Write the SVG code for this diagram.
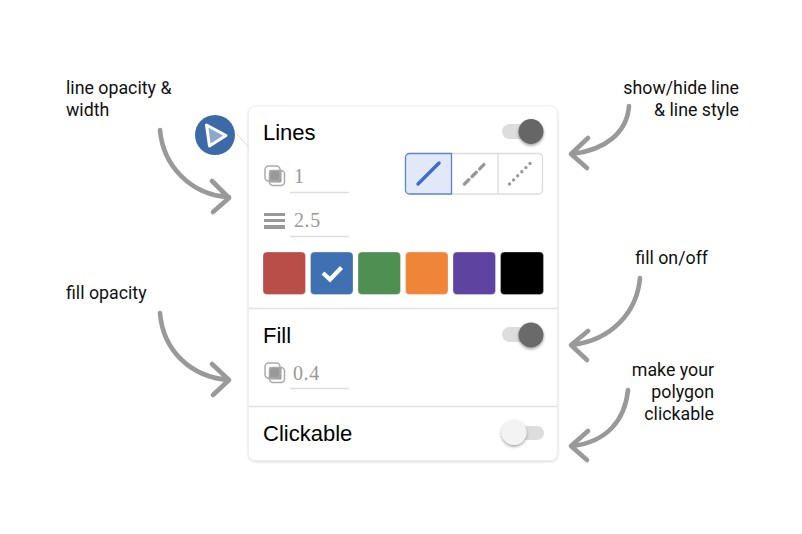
<svg xmlns="http://www.w3.org/2000/svg" width="802" height="534" viewBox="0 0 802 534">
<style>
.note{font:17.8px Roboto,sans-serif;fill:#111}
.title{font:22px "Liberation Sans",Arial,sans-serif;fill:#000}
.val{font:20px "Liberation Serif","DejaVu Serif",serif;fill:#999;letter-spacing:.6px}
.arrow{fill:none;stroke:#999;stroke-width:4.600;stroke-linecap:round;stroke-linejoin:round}
.rule{stroke:#ddd;stroke-width:1.500;fill:none}
.track{fill:#ddd}
.swatch{stroke:#fff;stroke-opacity:.3}
</style>
<defs>
<filter id="sh" x="-50%" y="-50%" width="200%" height="200%"><feDropShadow dx="0" dy="1.500" stdDeviation="1.500" flood-color="#000" flood-opacity=".4"/></filter>
<filter id="panel-sh" x="-5%" y="-5%" width="110%" height="110%"><feDropShadow dx="0" dy="1" stdDeviation="1" flood-color="#000" flood-opacity=".16"/></filter>
<g id="opacity"><rect x="5" y="5" width="12.500" height="12.500" rx="1.500" fill="#999"/><rect x="1" y="1" width="15" height="15" rx="3.500" fill="none" stroke="#aaa" stroke-width="1.500"/><rect x="5.500" y="5.500" width="15" height="15" rx="3.500" fill="none" stroke="#aaa" stroke-width="1.500"/></g>
</defs>
<rect width="802" height="534" fill="#fff"/>
<g id="panel"><rect x="248.500" y="106" width="309" height="354.500" rx="7" fill="#fff" stroke="#eee" stroke-width="1" filter="url(#panel-sh)"/><path d="M236 133 248.500 147" stroke="#ddd" fill="none"/><line x1="249" y1="308.500" x2="557" y2="308.500" stroke="#e2e2e2" stroke-width="1.300"/><line x1="249" y1="406.500" x2="557" y2="406.500" stroke="#e2e2e2" stroke-width="1.300"/></g>
<g id="tool-icon"><circle cx="215" cy="135" r="20" fill="#3c6aa8"/><path d="M206.500 125 226 135.500 209.500 146Z" fill="#8ba8d0" stroke="#fff" stroke-width="3" stroke-linejoin="round"/></g>
<g id="lines-section"><text class="title" x="263" y="140">Lines</text>
<g id="lines-toggle"><rect class="track" x="502" y="124" width="40" height="15" rx="7.500"/><circle cx="531" cy="131.500" r="12.500" fill="#666" filter="url(#sh)"/></g>
<use href="#opacity" x="264" y="165"/><text class="val" x="294" y="183">1</text><line class="rule" x1="290" y1="192.500" x2="349" y2="192.500"/>
<g fill="#999"><rect x="264" y="213" width="21" height="3"/><rect x="264" y="219" width="21" height="3"/><rect x="264" y="225" width="21" height="4"/></g><text class="val" x="294" y="227">2.5</text><line class="rule" x1="290" y1="236.500" x2="349" y2="236.500"/>
<g id="line-style"><rect x="405.500" y="153.500" width="137" height="40.500" rx="4" fill="#fff" stroke="#ddd" stroke-width="1.300"/><path d="M451.500 153.500V194M498 153.500V194" stroke="#ddd" stroke-width="1.300"/><path d="M409.500 153.500H451.500V194H409.500a4 4 0 0 1-4-4V157.500a4 4 0 0 1 4-4Z" fill="#e1e9f8" stroke="#5c86d8" stroke-width="1.300"/>
<line x1="418" y1="184" x2="439" y2="163" stroke="#3d6bd0" stroke-width="3.400" stroke-linecap="round"/>
<path d="M464.500 184 485.500 163" stroke="#999" stroke-width="3.400" stroke-linecap="round" stroke-dasharray="6 4.700"/>
<path d="M509.500 184 531 162.500" stroke="#999" stroke-width="3.400" stroke-linecap="round" stroke-dasharray="0 5.800"/></g>
<g id="swatches"><rect class="swatch" x="263" y="252" width="42.500" height="42.500" rx="4" fill="#b94e48"/><rect class="swatch" x="310.500" y="252" width="42.500" height="42.500" rx="4" fill="#3f71b2"/><path d="M323 273 330 279.500 341.500 267.500" fill="none" stroke="#fff" stroke-width="4.200"/><rect class="swatch" x="358" y="252" width="42.500" height="42.500" rx="4" fill="#4f8f52"/><rect class="swatch" x="405.500" y="252" width="42.500" height="42.500" rx="4" fill="#ee8538"/><rect class="swatch" x="453" y="252" width="42.500" height="42.500" rx="4" fill="#5f43a0"/><rect class="swatch" x="500.500" y="252" width="43" height="42.500" rx="4" fill="#000"/></g></g>
<g id="fill-section"><text class="title" x="263" y="343">Fill</text>
<g id="fill-toggle"><rect class="track" x="502" y="327" width="40" height="15" rx="7.500"/><circle cx="531" cy="335" r="12.500" fill="#6a6a6a" filter="url(#sh)"/></g>
<use href="#opacity" x="264" y="362"/><text class="val" x="293" y="380">0.4</text><line class="rule" x1="290" y1="388.500" x2="349" y2="388.500"/></g>
<g id="clickable-section"><text class="title" x="263" y="441">Clickable</text>
<g id="clickable-toggle"><rect class="track" x="504" y="426" width="40" height="14" rx="7"/><circle cx="514" cy="432.500" r="12.500" fill="#f3f3f3" filter="url(#sh)"/></g></g>
<g id="connectors" class="arrow">
<path d="M160 130C163 165 190 195 229 197M212 181 229 198 213 212"/>
<path d="M629 106C627 133 605 150 572 154M588 138 571 154 587 168"/>
<path d="M160 313C163 350 190 377 229 380M212 364 229 380 213 395"/>
<path d="M640 278C637 312 612 340 572 345M588 331 571 345 587 360"/>
<path d="M628 390C625 420 607 442 572 446M588 431 571 446 587 460"/>
</g>
<g id="labels" class="note">
<text x="66" y="94">line opacity &amp;</text><text x="66" y="116">width</text>
<text x="66" y="299">fill opacity</text>
<text x="739" y="94" text-anchor="end">show/hide line</text><text x="739" y="116" text-anchor="end">&amp; line style</text>
<text x="708" y="264" text-anchor="end">fill on/off</text>
<text x="714" y="376" text-anchor="end">make your</text><text x="714" y="398" text-anchor="end">polygon</text><text x="714" y="420" text-anchor="end">clickable</text>
</g>
</svg>
